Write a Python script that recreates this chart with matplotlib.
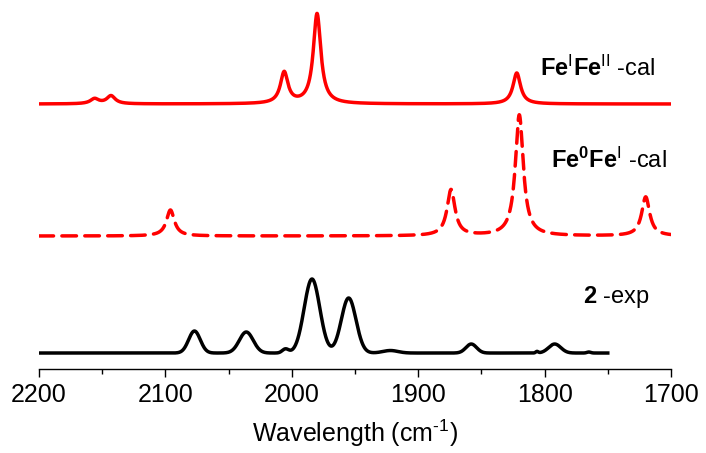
import numpy as np
import matplotlib
matplotlib.use("Agg")
import matplotlib.pyplot as plt
from matplotlib.ticker import MultipleLocator

plt.rcParams['font.family'] = ['Liberation Sans', 'DejaVu Sans']
plt.rcParams['mathtext.fontset'] = 'custom'
plt.rcParams['mathtext.rm'] = 'Liberation Sans'
plt.rcParams['mathtext.bf'] = 'Liberation Sans:bold'
plt.rcParams['mathtext.it'] = 'Liberation Sans:italic'

# --- data (peak parameters; arbitrary intensity units) ---
# Fe(I)Fe(II) calculated (Lorentzian bands)
cal1_pos = [2156, 2143, 2006, 1980, 1822]
cal1_amp = [5, 8, 31, 90, 31]
cal1_hwhm = [4.0, 4.0, 3.6, 3.6, 3.6]
cal1_offset = 265

# Fe(0)Fe(I) calculated (Lorentzian bands)
cal2_pos = [2096, 1874, 1820, 1720]
cal2_amp = [26, 46, 121, 39]
cal2_hwhm = [3.8, 3.8, 3.8, 3.8]
cal2_offset = 133

# complex 2 experimental (Gaussian-like bands)
exp_pos = [2077, 2036, 2005, 1984, 1955, 1922, 1858, 1806, 1792, 1765]
exp_amp = [22, 21, 4, 74, 55, 2.5, 9, 1.5, 9, 1.0]
exp_sigma = [4.6, 5.5, 2.5, 6.2, 5.8, 6.0, 4.2, 1.0, 4.8, 1.5]
exp_offset = 16

labels = [r"$\mathbf{Fe}^{\mathrm{I}}\mathbf{Fe}^{\mathrm{II}}$ -cal",
          r"$\mathbf{Fe}^{\mathbf{0}}\mathbf{Fe}^{\mathrm{I}}$ -cal",
          r"$\mathbf{2}$ -exp"]
label_x = [1804, 1795, 1770]
label_y = [301, 209, 72]

xticks = [2200, 2100, 2000, 1900, 1800, 1700]


def lorentz(x, pos, amp, hw):
    y = np.zeros_like(x)
    for p, a, w in zip(pos, amp, hw):
        y += a * w**2 / ((x - p)**2 + w**2)
    return y


def gauss(x, pos, amp, sg):
    y = np.zeros_like(x)
    for p, a, s in zip(pos, amp, sg):
        y += a * np.exp(-0.5 * ((x - p) / s)**2)
    return y


x_cal = np.linspace(2200, 1700, 3000)
x_exp = np.linspace(2200, 1750, 2500)

fig = plt.figure(figsize=(7.06, 4.53), dpi=100)
ax = fig.add_axes([0.0552, 0.1854, 0.8952, 0.8146])

ax.plot(x_cal, cal1_offset + lorentz(x_cal, cal1_pos, cal1_amp, cal1_hwhm),
        color='#ff0000', lw=2.5, solid_capstyle='round')
ax.plot(x_cal, cal2_offset + lorentz(x_cal, cal2_pos, cal2_amp, cal2_hwhm),
        color='#ff0000', lw=2.5, dashes=(4.2, 2.4), dash_capstyle='round')
ax.plot(x_exp, exp_offset + gauss(x_exp, exp_pos, exp_amp, exp_sigma),
        color='black', lw=2.5)

for t, xx, yy in zip(labels, label_x, label_y):
    ax.text(xx, yy, t, fontsize=17, ha='left', va='center')

ax.set_xlim(2200, 1700)
ax.set_ylim(0, 369)
ax.set_xticks(xticks)
ax.xaxis.set_minor_locator(MultipleLocator(50))
ax.tick_params(axis='x', which='major', direction='out', length=6, width=1.0,
               labelsize=18, pad=4)
ax.tick_params(axis='x', which='minor', direction='out', length=3.5, width=1.0)
ax.set_yticks([])
for s in ['left', 'right', 'top']:
    ax.spines[s].set_visible(False)
ax.spines['bottom'].set_linewidth(1.0)
ax.set_xlabel(r"Wavelength (cm$^{\text{-1}}$)", fontsize=18, labelpad=8)

fig.savefig("out.png", dpi=100)
